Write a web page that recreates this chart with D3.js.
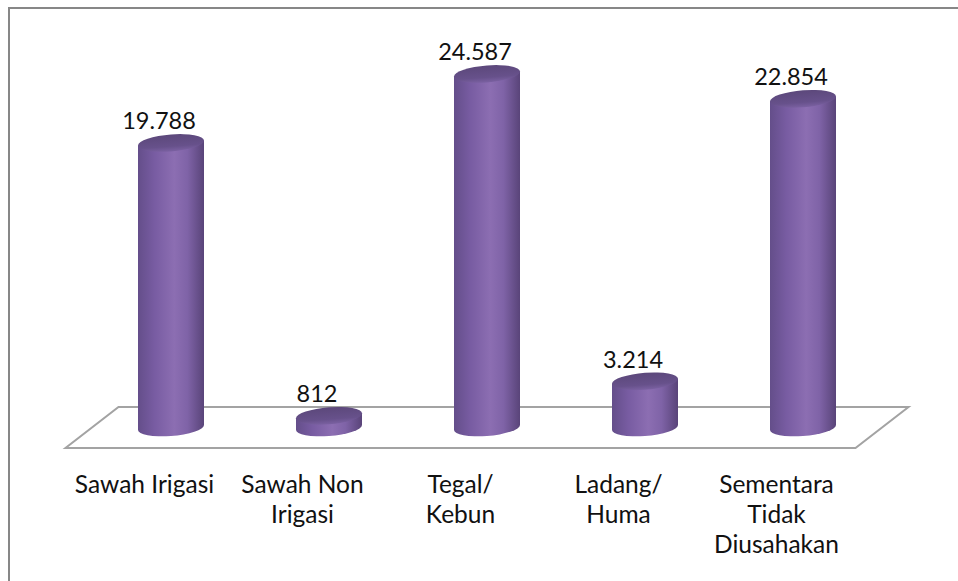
<!DOCTYPE html>
<html>
<head>
<meta charset="utf-8">
<script src="https://cdn.jsdelivr.net/npm/d3@7"></script>
<style>
  body { margin: 0; background: #fff; }
  svg { display: block; }
</style>
</head>
<body>
<script>
// land use data (ha)
const categories = ['Sawah Irigasi', 'Sawah Non\nIrigasi', 'Tegal/\nKebun', 'Ladang/\nHuma', 'Sementara\nTidak\nDiusahakan']
const values = [19788, 812, 24587, 3214, 22854]
const valueLabels = ['19.788', '812', '24.587', '3.214', '22.854']

const W = 958, H = 581
const baseY = 427.5       // floor middle depth, where cylinders stand
const depthX = 26.5, depthY = 20.5
const rx = 33, ry = 8.5

const svg = d3.select('body').append('svg')
      .attr('width', W)
      .attr('height', H)

const defs = svg.append('defs')
const sideGrad = defs.append('linearGradient')
      .attr('id', 'side')
      .attr('x1', '0%').attr('x2', '100%')
sideGrad.selectAll('stop')
    .data([[0, '#644e8a'], [0.25, '#785ca2'], [0.55, '#8c6eb2'], [0.75, '#7f63a7'], [1, '#594479']])
    .enter().append('stop')
    .attr('offset', d => d[0])
    .attr('stop-color', d => d[1])
const topGrad = defs.append('linearGradient')
      .attr('id', 'top')
      .attr('x1', '0%').attr('x2', '0%').attr('y1', '0%').attr('y2', '100%')
topGrad.selectAll('stop')
    .data([[0, '#5c487b'], [0.7, '#67518b'], [1, '#7b61a2']])
    .enter().append('stop')
    .attr('offset', d => d[0])
    .attr('stop-color', d => d[1])

// frame
svg.append('path')
    .attr('d', 'M9,' + H + ' L9,8 L' + W + ',8')
    .attr('fill', 'none')
    .attr('stroke', '#878787')
    .attr('stroke-width', 2)

const x = d3.scaleBand()
      .domain(d3.range(categories.length))
      .range([92, 882])

const y = d3.scaleLinear()
      .domain([0, 25000])
      .range([baseY, 68])

// floor
const x0 = x.range()[0], x1 = x.range()[1]
svg.append('path')
    .attr('d', 'M' + (x0 + depthX) + ',' + (baseY - depthY) +
               ' L' + (x1 + depthX) + ',' + (baseY - depthY) +
               ' L' + (x1 - depthX) + ',' + (baseY + depthY) +
               ' L' + (x0 - depthX) + ',' + (baseY + depthY) + ' Z')
    .attr('fill', '#fff')
    .attr('stroke', '#a3a3a3')
    .attr('stroke-width', 2)

const bars = svg.selectAll('g.bar')
      .data(values)
      .enter().append('g')
      .attr('class', 'bar')
      .attr('transform', (d, i) => {
        const cx = x(i) + x.bandwidth() / 2
        return 'translate(' + cx + ',0) skewY(-4.3) translate(' + (-cx) + ',0)'
      })

bars.append('path')
    .attr('d', (d, i) => {
      const cx = x(i) + x.bandwidth() / 2
      const t = y(d)
      return 'M' + (cx - rx) + ',' + t +
             ' L' + (cx - rx) + ',' + baseY +
             ' A' + rx + ',' + ry + ' 0 0 0 ' + (cx + rx) + ',' + baseY +
             ' L' + (cx + rx) + ',' + t + ' Z'
    })
    .attr('fill', 'url(#side)')

bars.append('ellipse')
    .attr('cx', (d, i) => x(i) + x.bandwidth() / 2)
    .attr('cy', d => y(d))
    .attr('rx', rx)
    .attr('ry', ry)
    .attr('fill', 'url(#top)')

svg.selectAll('text.val')
    .data(values)
    .enter().append('text')
    .attr('class', 'val')
    .attr('x', (d, i) => x(i) + x.bandwidth() / 2 - 12)
    .attr('y', d => y(d) - ry - 5)
    .attr('text-anchor', 'middle')
    .style('font-family', 'Lato, sans-serif')
    .style('font-size', '23.5px')
    .style('fill', '#111')
    .text((d, i) => valueLabels[i])

const cat = svg.selectAll('text.cat')
      .data(categories)
      .enter().append('text')
      .attr('class', 'cat')
      .attr('x', (d, i) => x(i) + x.bandwidth() / 2 - depthX)
      .attr('y', 493)
      .attr('text-anchor', 'middle')
      .style('font-family', 'Lato, sans-serif')
      .style('font-size', '24.5px')
      .style('fill', '#111')

cat.selectAll('tspan')
    .data(d => d.split('\n'))
    .enter().append('tspan')
    .attr('x', function() { return d3.select(this.parentNode).attr('x') })
    .attr('dy', (d, i) => i === 0 ? 0 : 30)
    .text(d => d)
</script>
</body>
</html>
